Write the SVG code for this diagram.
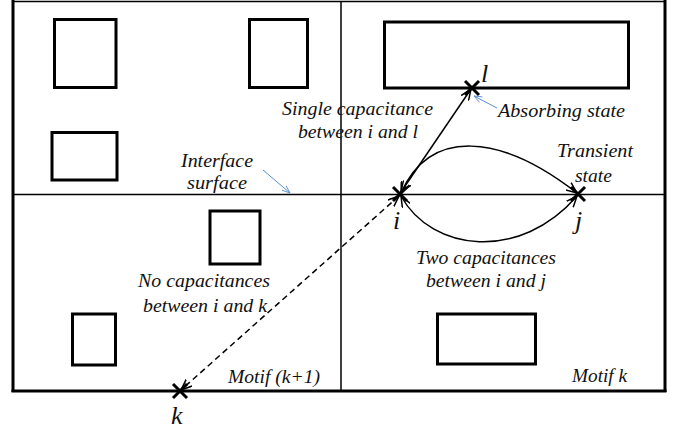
<svg xmlns="http://www.w3.org/2000/svg" width="680" height="432" viewBox="0 0 680 432">
  <defs>
    <marker id="open" viewBox="0 0 12 10" refX="11" refY="5" markerWidth="12" markerHeight="10" markerUnits="userSpaceOnUse" orient="auto-start-reverse">
      <path d="M0,0.5 L11,5 L0,9.5" fill="none" stroke="#000" stroke-width="1.5"/>
    </marker>
    <marker id="blueHead" viewBox="0 0 10 8" refX="9" refY="4" markerWidth="9" markerHeight="7" markerUnits="userSpaceOnUse" orient="auto">
      <path d="M0,0.5 L9,4 L0,7.5" fill="none" stroke="#5b8ed6" stroke-width="1"/>
    </marker>
  </defs>
  <style>
    .frame { fill: none; stroke: #000; }
    .motif { fill: #fff; stroke: #000; stroke-width: 3; }
    .cross { stroke: #000; stroke-width: 3; }
    .link { fill: none; stroke: #000; stroke-width: 1.5; }
    .note { fill: none; stroke: #5b8ed6; stroke-width: 1; }
    text { font-family: "Liberation Serif", "Times New Roman", serif; font-style: italic; fill: #111; }
    .lbl { font-size: 19.5px; }
    .state { font-size: 26px; }
  </style>

  <rect width="680" height="432" fill="#fff"/>

  <!-- outer frame and interface lines -->
  <g id="frame">
    <line class="frame" x1="13" y1="1.5" x2="665" y2="1.5" stroke-width="1.5"/>
    <line class="frame" x1="13" y1="0" x2="13" y2="392" stroke-width="3"/>
    <line class="frame" x1="665" y1="0" x2="665" y2="392" stroke-width="3"/>
    <line class="frame" x1="11.5" y1="391" x2="666.5" y2="391" stroke-width="3"/>
    <line class="frame" x1="341" y1="1" x2="341" y2="391" stroke-width="1.5"/>
    <line class="frame" x1="13" y1="194.5" x2="665" y2="194.5" stroke-width="1.5"/>
  </g>

  <!-- motif blocks -->
  <g id="blocks">
    <rect class="motif" x="54.5" y="19.5" width="61.5" height="68"/>
    <rect class="motif" x="249.5" y="19.5" width="58" height="68"/>
    <rect class="motif" x="52" y="132.5" width="65" height="47.5"/>
    <rect class="motif" x="384.5" y="22" width="244" height="66"/>
    <rect class="motif" x="210" y="211" width="50" height="53"/>
    <rect class="motif" x="72.5" y="314" width="43" height="51"/>
    <rect class="motif" x="437.5" y="314" width="98" height="50"/>
  </g>

  <!-- connectors -->
  <g id="connectors">
    <line class="link" x1="401" y1="192" x2="471" y2="89" marker-start="url(#open)" marker-end="url(#open)"/>
    <path class="link" d="M401,193 C430,128 500,133 577,193" marker-start="url(#open)" marker-end="url(#open)"/>
    <path class="link" d="M401,196 C432,252 520,262 577,196" marker-start="url(#open)" marker-end="url(#open)"/>
    <line class="link" x1="399" y1="196" x2="181" y2="390" stroke-dasharray="6,4" marker-start="url(#open)" marker-end="url(#open)"/>
    <line class="note" x1="263" y1="170" x2="290" y2="193" marker-end="url(#blueHead)"/>
    <line class="note" x1="497" y1="108" x2="474" y2="96" marker-end="url(#blueHead)"/>
  </g>

  <!-- states -->
  <g id="state-l">
    <line class="cross" x1="465" y1="81" x2="479" y2="95"/>
    <line class="cross" x1="479" y1="81" x2="465" y2="95"/>
    <text class="state" x="481" y="82">l</text>
  </g>
  <g id="state-i">
    <line class="cross" x1="393" y1="187" x2="407" y2="201"/>
    <line class="cross" x1="407" y1="187" x2="393" y2="201"/>
    <text class="state" x="393" y="229">i</text>
  </g>
  <g id="state-j">
    <line class="cross" x1="571" y1="187" x2="585" y2="201"/>
    <line class="cross" x1="585" y1="187" x2="571" y2="201"/>
    <text class="state" x="575" y="229">j</text>
  </g>
  <g id="state-k">
    <line class="cross" x1="173" y1="384" x2="187" y2="398"/>
    <line class="cross" x1="187" y1="384" x2="173" y2="398"/>
    <text class="state" x="171" y="424">k</text>
  </g>

  <!-- annotations -->
  <g id="labels">
    <text class="lbl" x="181" y="167" textLength="72" lengthAdjust="spacingAndGlyphs">Interface</text>
    <text class="lbl" x="187" y="189" textLength="60" lengthAdjust="spacingAndGlyphs">surface</text>
    <text class="lbl" x="282" y="115" textLength="151" lengthAdjust="spacingAndGlyphs">Single capacitance</text>
    <text class="lbl" x="298" y="138" textLength="120" lengthAdjust="spacingAndGlyphs">between i and l</text>
    <text class="lbl" x="498" y="117" textLength="127" lengthAdjust="spacingAndGlyphs">Absorbing state</text>
    <text class="lbl" x="557" y="157" textLength="76" lengthAdjust="spacingAndGlyphs">Transient</text>
    <text class="lbl" x="575" y="182" textLength="37" lengthAdjust="spacingAndGlyphs">state</text>
    <text class="lbl" x="416" y="264" textLength="140" lengthAdjust="spacingAndGlyphs">Two capacitances</text>
    <text class="lbl" x="426" y="287" textLength="120" lengthAdjust="spacingAndGlyphs">between i and j</text>
    <text class="lbl" x="138" y="287" textLength="132" lengthAdjust="spacingAndGlyphs">No capacitances</text>
    <text class="lbl" x="143" y="312" textLength="124" lengthAdjust="spacingAndGlyphs">between i and k</text>
    <text class="lbl" x="228" y="383" textLength="92" lengthAdjust="spacingAndGlyphs">Motif (k+1)</text>
    <text class="lbl" x="572" y="382" textLength="55" lengthAdjust="spacingAndGlyphs">Motif k</text>
  </g>
</svg>
